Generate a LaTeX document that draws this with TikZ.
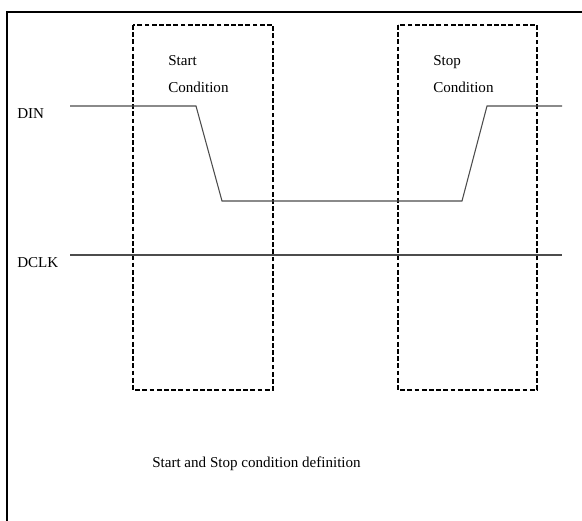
\documentclass[tikz,border=0pt]{standalone}
\usepackage{fontspec}
\setmainfont{Liberation Serif}
\usepackage{tikz}

\tikzset{
  condbox/.style={line width=1.5pt, dash pattern=on 3.6pt off 1.8pt},
  wave/.style={line width=0.8pt, black!70},
  txt/.style={anchor=base west, inner sep=0pt, font=\fontsize{11.3}{13}\selectfont}
}

\begin{document}
\begin{tikzpicture}[x=0.75pt,y=-0.75pt]
\useasboundingbox (0,0) rectangle (582,521);
% draw frame
\draw[line width=0.9pt] (7,521) -- (7,12) -- (582,12);
% draw start box
\draw[condbox] (133,25) rectangle (273,390);
\node[txt] (start) at (168,65) {Start};
\node[txt] (startc) at (168,92) {Condition};
% draw stop box
\draw[condbox] (398,25) rectangle (537,390);
\node[txt] (stop) at (433,65) {Stop};
\node[txt] (stopc) at (433,92) {Condition};
% draw din
\node[txt] (din) at (17,118) {DIN};
\coordinate (d0) at (70,106);
\coordinate (d1) at (196,106);
\coordinate (d2) at (222,201);
\coordinate (d3) at (462,201);
\coordinate (d4) at (487,106);
\coordinate (d5) at (562,106);
\draw[wave] (d0) -- (d1) -- (d2) -- (d3) -- (d4) -- (d5);
% draw dclk
\node[txt] (dclk) at (17,267) {DCLK};
\coordinate (c0) at (70,255);
\coordinate (c1) at (562,255);
\draw[wave] (c0) -- (c1);
% draw description
\node[txt] (caption) at (152,467) {Start and Stop condition definition};
\end{tikzpicture}
\end{document}
